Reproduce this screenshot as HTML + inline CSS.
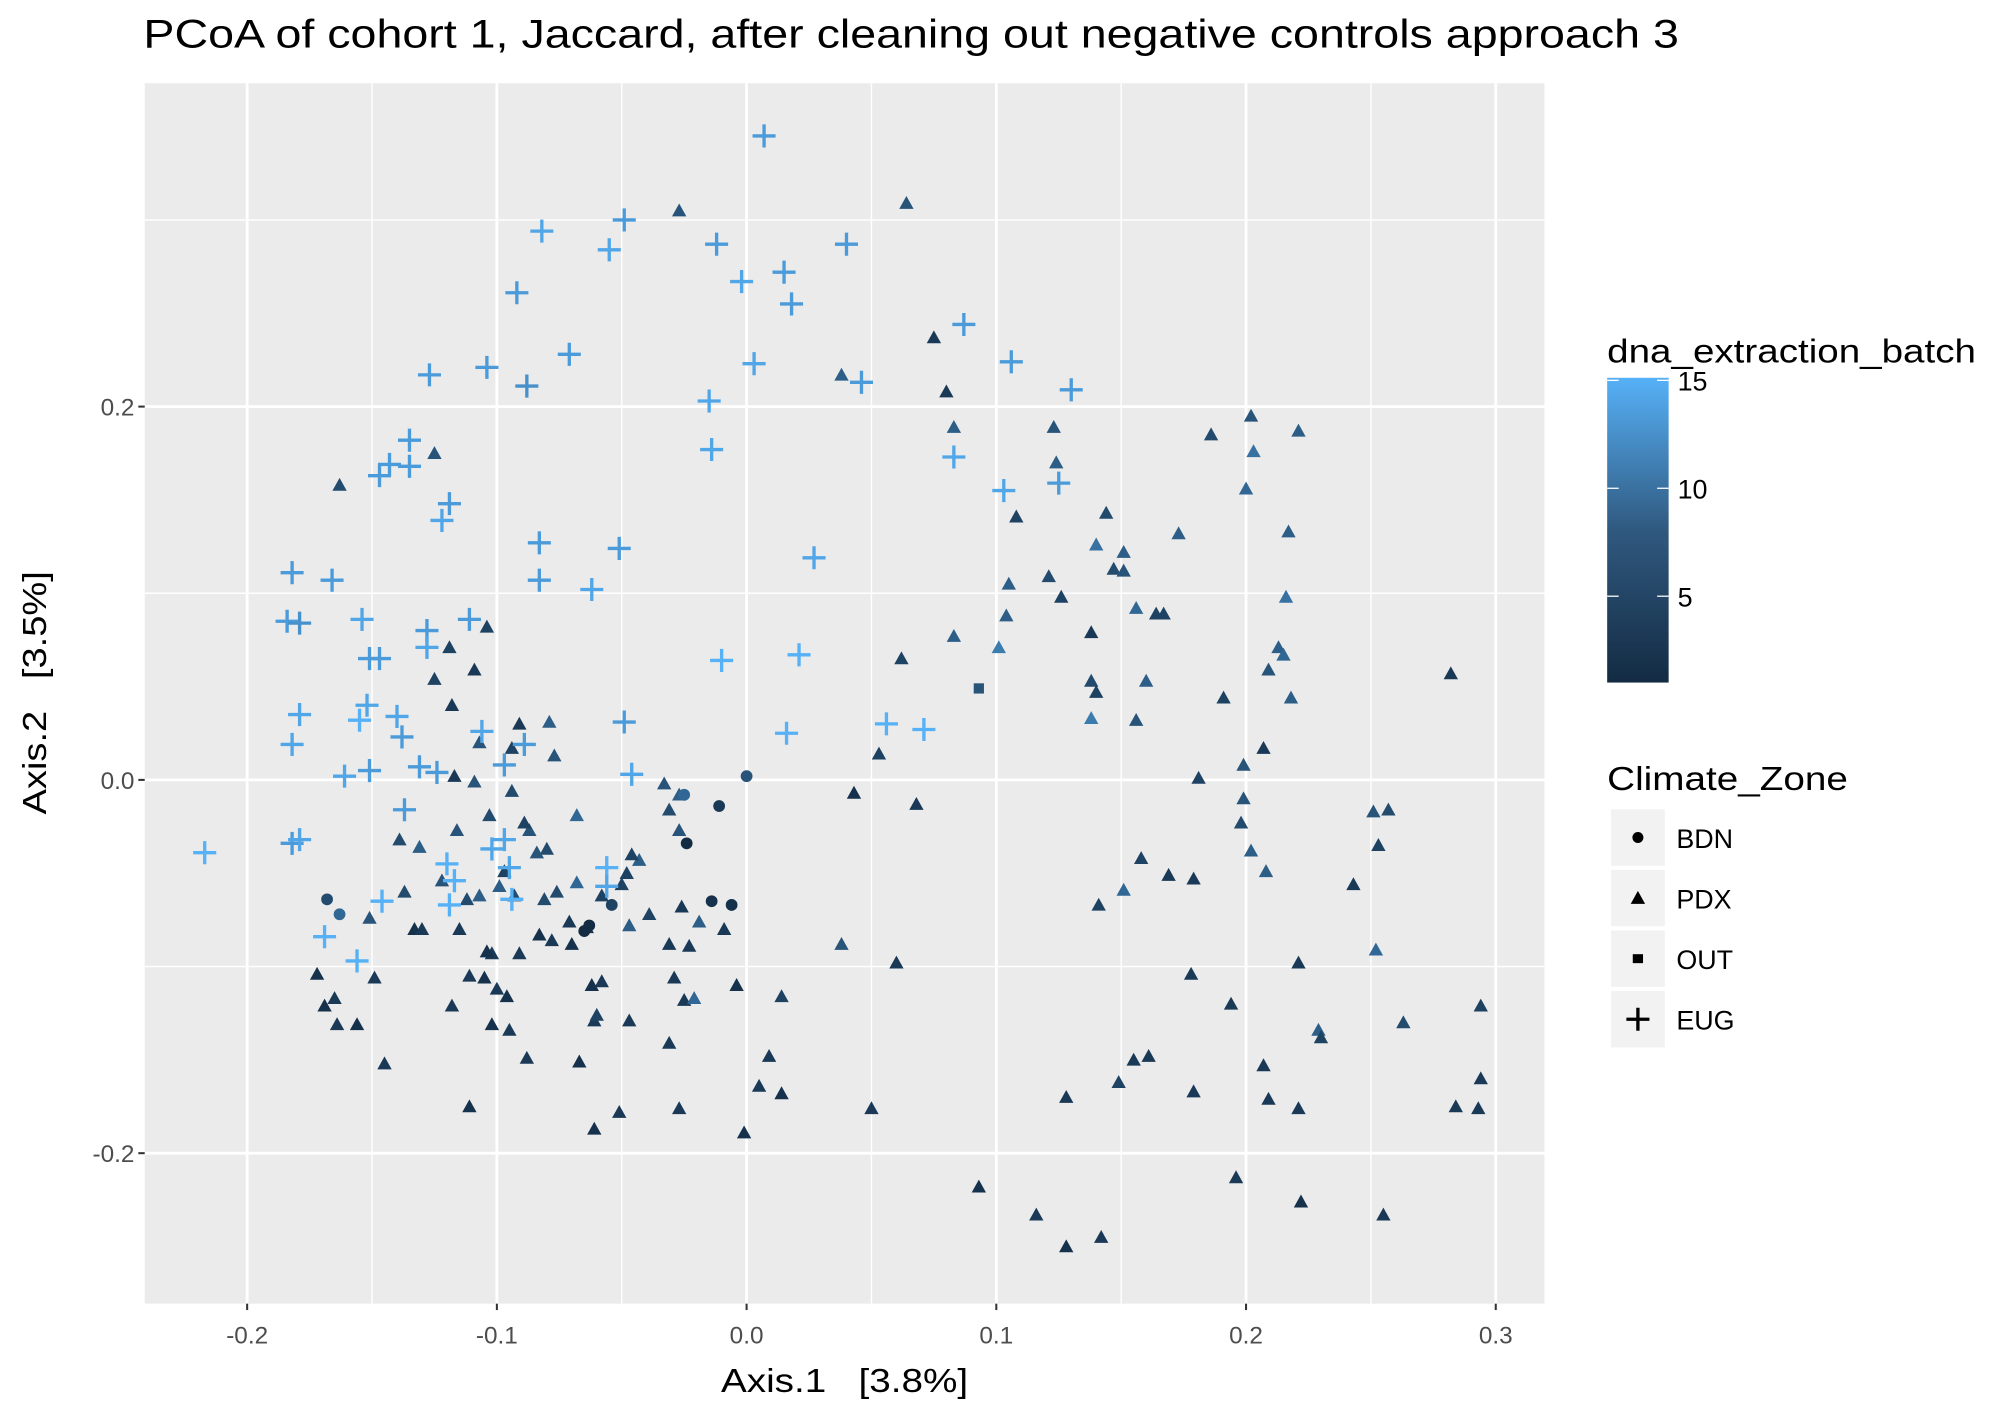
<!DOCTYPE html>
<html><head><meta charset="utf-8"><style>
html,body{margin:0;padding:0;background:#fff;}
svg{display:block;font-family:"Liberation Sans",Arial,sans-serif;}
text{white-space:pre;}
</style></head><body>
<svg id="chart" width="2008" height="1412" viewBox="0 0 1568 1102.6" xmlns="http://www.w3.org/2000/svg" xml:space="preserve">
<rect x="0" y="0" width="1568" height="1103" fill="#fff"/>
<text x="112" y="37" font-size="31" fill="#000" textLength="1199" lengthAdjust="spacingAndGlyphs">PCoA of cohort 1, Jaccard, after cleaning out negative controls approach 3</text>
<rect x="113" y="65" width="1093" height="953" fill="#ebebeb"/>
<g id="grid"></g>
<g id="axes"></g>
<g id="points"></g>
<text x="563" y="1087" font-size="26" fill="#000" textLength="193" lengthAdjust="spacingAndGlyphs">Axis.1   [3.8%]</text>
<text transform="translate(36,636) rotate(-90)" font-size="26" fill="#000" textLength="190" lengthAdjust="spacingAndGlyphs">Axis.2   [3.5%]</text>
<g>
<defs><linearGradient id="cg" x1="0" y1="1" x2="0" y2="0"><stop offset="0" stop-color="#132B43"/><stop offset="0.5" stop-color="#30597f"/><stop offset="1" stop-color="#56B1F7"/></linearGradient></defs>
<text x="1255" y="283" font-size="26" fill="#000" textLength="288" lengthAdjust="spacingAndGlyphs">dna_extraction_batch</text>
<rect x="1255" y="295" width="48" height="238" fill="url(#cg)"/>
<g id="cbticks"></g>
</g>
<g>
<text x="1255" y="617" font-size="26" fill="#000" textLength="188" lengthAdjust="spacingAndGlyphs">Climate_Zone</text>
<g id="shapekeys"></g>
</g>
</svg>
<script>
const xTicks=[-0.2,-0.1,0.0,0.1,0.2,0.3];
const xTickLabels=["-0.2","-0.1","0.0","0.1","0.2","0.3"];
const yTicks=[-0.2,0.0,0.2];
const yTickLabels=["-0.2","0.0","0.2"];
const cbTicks=[5,10,15];
const shapeCats=["BDN","PDX","OUT","EUG"];

const eugX=[0.007,-0.049,-0.082,-0.055,-0.012,0.040,0.015,-0.002,0.018,-0.092,-0.071,0.087,-0.127,-0.104,-0.088,0.003,0.046,0.106,0.130,-0.015,-0.135,-0.143,-0.147,-0.135,-0.119,-0.122,-0.014,0.083,0.103,0.125,-0.083,-0.051,0.027,-0.182,-0.166,-0.083,-0.062,-0.184,-0.179,-0.154,-0.128,-0.111,-0.128,-0.151,-0.147,-0.010,0.021,-0.179,-0.152,-0.155,-0.140,-0.106,-0.049,-0.089,-0.182,-0.138,-0.161,-0.151,-0.131,-0.124,-0.097,-0.046,0.016,0.056,0.071,-0.137,-0.217,-0.182,-0.179,-0.120,-0.097,-0.095,-0.056,-0.117,-0.102,-0.146,-0.119,-0.094,-0.169,-0.156,-0.056];
const eugY=[0.345,0.300,0.294,0.284,0.287,0.287,0.272,0.267,0.255,0.261,0.228,0.244,0.217,0.221,0.211,0.223,0.213,0.224,0.209,0.203,0.182,0.169,0.163,0.168,0.148,0.139,0.177,0.173,0.155,0.159,0.127,0.124,0.119,0.111,0.107,0.107,0.102,0.085,0.084,0.086,0.080,0.086,0.071,0.065,0.065,0.064,0.067,0.035,0.040,0.032,0.034,0.026,0.031,0.019,0.019,0.023,0.002,0.005,0.007,0.004,0.008,0.003,0.025,0.030,0.027,-0.016,-0.039,-0.034,-0.032,-0.045,-0.032,-0.047,-0.047,-0.054,-0.037,-0.065,-0.067,-0.064,-0.084,-0.097,-0.057];
const eugB=[13,13,14,14,13,13,13,14,13,13,13,13,13,13,12,14,13,13,13,14,13,13,13,13,13,14,14,14,14,13,13,13,14,13,13,13,14,13,12,14,13,13,14,13,13,15,15,14,14,15,14,14,13,13,14,13,14,13,13,13,13,14,15,15,15,13,15,13,14,15,14,14,15,15,14,15,15,15,15,15,14];

const pdxX=[-0.027,0.064,0.075,0.080,0.083,0.038,-0.125,-0.163,0.123,0.186,0.202,0.203,0.221,0.200,0.124,0.108,0.144,0.173,0.217,0.140,0.151,0.147,0.151,0.121,0.105,0.126,0.216,0.104,0.156,0.164,0.167,0.138,0.083,0.101,0.213,0.215,0.209,0.282,0.062,0.138,0.160,0.140,0.218,0.191,0.138,0.156,0.053,0.207,0.199,0.181,0.043,0.068,0.199,0.198,0.202,0.208,0.251,0.257,0.253,0.158,0.169,0.179,0.151,0.141,0.243,0.038,0.060,0.178,0.221,0.252,0.263,0.294,0.229,0.230,0.194,0.155,0.161,0.149,0.207,0.179,0.209,0.221,0.294,0.284,0.293,0.128,0.093,0.116,0.128,0.142,0.196,0.222,0.255,0.050,-0.001,0.005,0.009,0.014,0.014,-0.004,-0.027,-0.051,-0.061,-0.031,-0.067,-0.061,-0.060,-0.047,-0.025,-0.021,-0.029,-0.058,-0.062,-0.111,-0.088,-0.102,-0.095,-0.096,-0.100,-0.105,-0.111,-0.118,-0.145,-0.149,-0.156,-0.164,-0.165,-0.169,-0.172,-0.133,-0.130,-0.115,-0.102,-0.104,-0.091,-0.083,-0.078,-0.071,-0.070,-0.064,-0.058,-0.047,-0.039,-0.031,-0.026,-0.019,-0.023,-0.009,-0.137,-0.151,-0.122,-0.112,-0.107,-0.099,-0.093,-0.081,-0.076,-0.068,-0.050,-0.043,-0.046,-0.048,-0.033,-0.027,-0.027,-0.031,-0.103,-0.094,-0.087,-0.080,-0.068,-0.089,-0.116,-0.131,-0.139,-0.097,-0.084,-0.109,-0.117,-0.107,-0.091,-0.077,-0.118,-0.109,-0.125,-0.119,-0.104,-0.079,-0.094];
const pdxY=[0.305,0.309,0.237,0.208,0.189,0.217,0.175,0.158,0.189,0.185,0.195,0.176,0.187,0.156,0.170,0.141,0.143,0.132,0.133,0.126,0.122,0.113,0.112,0.109,0.105,0.098,0.098,0.088,0.092,0.089,0.089,0.079,0.077,0.071,0.071,0.067,0.059,0.057,0.065,0.053,0.053,0.047,0.044,0.044,0.033,0.032,0.014,0.017,0.008,0.001,-0.007,-0.013,-0.010,-0.023,-0.038,-0.049,-0.017,-0.016,-0.035,-0.042,-0.051,-0.053,-0.059,-0.067,-0.056,-0.088,-0.098,-0.104,-0.098,-0.091,-0.130,-0.121,-0.134,-0.138,-0.120,-0.150,-0.148,-0.162,-0.153,-0.167,-0.171,-0.176,-0.160,-0.175,-0.176,-0.170,-0.218,-0.233,-0.250,-0.245,-0.213,-0.226,-0.233,-0.176,-0.189,-0.164,-0.148,-0.168,-0.116,-0.110,-0.176,-0.178,-0.187,-0.141,-0.151,-0.129,-0.126,-0.129,-0.118,-0.117,-0.106,-0.108,-0.110,-0.175,-0.149,-0.131,-0.134,-0.116,-0.112,-0.106,-0.105,-0.121,-0.152,-0.106,-0.131,-0.131,-0.117,-0.121,-0.104,-0.080,-0.080,-0.080,-0.093,-0.092,-0.093,-0.083,-0.086,-0.076,-0.088,-0.079,-0.062,-0.078,-0.072,-0.088,-0.068,-0.076,-0.089,-0.080,-0.060,-0.074,-0.054,-0.064,-0.062,-0.057,-0.062,-0.064,-0.060,-0.055,-0.056,-0.043,-0.040,-0.050,-0.002,-0.008,-0.027,-0.016,-0.019,-0.006,-0.027,-0.037,-0.019,-0.023,-0.027,-0.036,-0.032,-0.049,-0.039,-0.001,0.002,0.020,0.030,0.013,0.040,0.059,0.054,0.071,0.082,0.031,0.017];
const pdxB=[6,6,3,3,7,7,6,5,6,5,6,9,7,8,7,4,5,7,7,9,7,5,6,5,7,4,9,7,8,4,4,3,7,10,7,8,6,3,4,5,7,4,7,4,10,6,4,3,6,4,2,3,6,5,7,7,6,5,4,4,3,3,8,4,3,6,3,3,3,8,5,4,7,4,3,3,3,4,3,3,3,3,3,3,3,3,2,3,2,3,3,2,3,3,2,3,3,2,4,2,3,3,2,3,2,3,4,3,3,8,3,3,2,2,3,2,3,2,3,2,3,3,3,3,2,3,3,2,2,2,3,3,3,2,3,2,3,3,2,2,4,7,4,3,3,7,3,3,5,6,6,5,7,7,5,5,5,8,4,7,4,4,6,7,6,5,5,5,6,5,8,4,6,7,5,4,6,6,3,6,3,6,3,3,4,4,4,7,4];

const bdnX=[0.000,-0.025,-0.011,-0.024,-0.168,-0.163,-0.054,-0.014,-0.006,-0.063,-0.065];
const bdnY=[0.002,-0.008,-0.014,-0.034,-0.064,-0.072,-0.067,-0.065,-0.067,-0.078,-0.081];
const bdnB=[6,8,3,1,5,8,4,2,2,1,1];

const outX=[0.093];
const outY=[0.049];
const outB=[6];

const NS="http://www.w3.org/2000/svg";
const X0=113,X1=1206,Y0=65,Y1=1018;
function sx(v){return 583+v*1950;}
function sy(v){return 609-v*1457.5;}
function col(b){
  const t=Math.max(0,Math.min(1,(b-1)/14));
  const a=[0x13,0x2B,0x43],c=[0x56,0xB1,0xF7];
  const tt=Math.pow(t,1.15);
  return "rgb("+a.map((v,i)=>Math.round(v+(c[i]-v)*tt)).join(",")+")";
}
function mk(tag,attrs,parent){
  const e=document.createElementNS(NS,tag);
  for(const k in attrs)e.setAttribute(k,attrs[k]);
  parent.appendChild(e);return e;
}
const grid=document.getElementById('grid');
const axes=document.getElementById('axes');
const pts=document.getElementById('points');
for(let v=-0.25;v<=0.36;v+=0.1){
  const x=sx(v); if(x<X0||x>X1)continue;
  const l=mk('line',{x1:x,x2:x,y1:Y0,y2:Y1,stroke:'#fff','stroke-width':1.1},grid);
  
  
}
for(let v=-0.3;v<=0.4;v+=0.2){
  const y=sy(v); if(y<Y0||y>Y1)continue;
  const l=mk('line',{x1:X0,x2:X1,y1:y,y2:y,stroke:'#fff','stroke-width':1.1},grid);
  
  
}
xTicks.forEach((v,i)=>{
  const x=sx(v);
  const l=mk('line',{x1:x,x2:x,y1:Y0,y2:Y1,stroke:'#fff','stroke-width':2.2},grid);
  
  
  const t=mk('line',{x1:x,x2:x,y1:Y1,y2:Y1+5,stroke:'#333','stroke-width':1.6},axes);
  
  
  const tx=mk('text',{x:x,y:Y1+31,'font-size':19,'text-anchor':'middle',fill:'#4d4d4d'},axes);
  tx.textContent=xTickLabels[i];
  
  
});
yTicks.forEach((v,i)=>{
  const y=sy(v);
  const l=mk('line',{x1:X0,x2:X1,y1:y,y2:y,stroke:'#fff','stroke-width':2.2},grid);
  
  
  const t=mk('line',{x1:X0-5,x2:X0,y1:y,y2:y,stroke:'#333','stroke-width':1.6},axes);
  
  
  const tx=mk('text',{x:X0-8,y:y+7,'font-size':19,'text-anchor':'end',fill:'#4d4d4d'},axes);
  tx.textContent=yTickLabels[i];
  
  
});
function tri(cx,cy,c,parent){
  const s=5.6;
  return mk('polygon',{points:(cx-s)+","+(cy+s*0.8)+" "+(cx+s)+","+(cy+s*0.8)+" "+cx+","+(cy-s*1.0),fill:c},parent);
}
function cross(cx,cy,c,parent){
  return mk('path',{d:"M"+(cx-9)+" "+cy+"H"+(cx+9)+"M"+cx+" "+(cy-9)+"V"+(cy+9),stroke:c,'stroke-width':2.6,fill:'none'},parent);
}
pdxX.forEach((v,i)=>{
  const p=tri(sx(v),sy(pdxY[i]),col(pdxB[i]),pts);
  
  
});
bdnX.forEach((v,i)=>{
  const p=mk('circle',{cx:sx(v),cy:sy(bdnY[i]),r:4.6,fill:col(bdnB[i])},pts);
  
  
});
outX.forEach((v,i)=>{
  const p=mk('rect',{x:sx(v)-4,y:sy(outY[i])-4,width:8,height:8,fill:col(outB[i])},pts);
  
  
});
eugX.forEach((v,i)=>{
  const p=cross(sx(v),sy(eugY[i]),col(eugB[i]),pts);
  
  
});
const cbg=document.getElementById('cbticks');
function cby(v){return 533-(v-1)/14*236;}
cbTicks.forEach(v=>{
  const y=cby(v);
  const a=mk('line',{x1:1255,x2:1264,y1:y,y2:y,stroke:'#fff','stroke-width':1},cbg);
  
  
  const b=mk('line',{x1:1294,x2:1303,y1:y,y2:y,stroke:'#fff','stroke-width':1},cbg);
  
  
  const t=mk('text',{x:1310,y:y+8,'font-size':21,fill:'#000'},cbg);
  t.textContent=String(v);
  
  
});
const sk=document.getElementById('shapekeys');
shapeCats.forEach((c,i)=>{
  const cy=654+i*47.3;
  const g=mk('g',{},sk);
  
  
  mk('rect',{x:1258,y:cy-22,width:42,height:44,fill:'#f2f2f2'},g);
  const kx=1279;
  if(c==="BDN")mk('circle',{cx:kx,cy:cy,r:4.3,fill:'#000'},g);
  else if(c==="PDX")tri(kx,cy,'#000',g);
  else if(c==="OUT")mk('rect',{x:kx-4,y:cy-3.5,width:8,height:7,fill:'#000'},g);
  else cross(kx,cy,'#000',g);
  const t=mk('text',{x:1309,y:cy+8,'font-size':21,fill:'#000'},g);
  t.textContent=c;
});
</script>
</body></html>
